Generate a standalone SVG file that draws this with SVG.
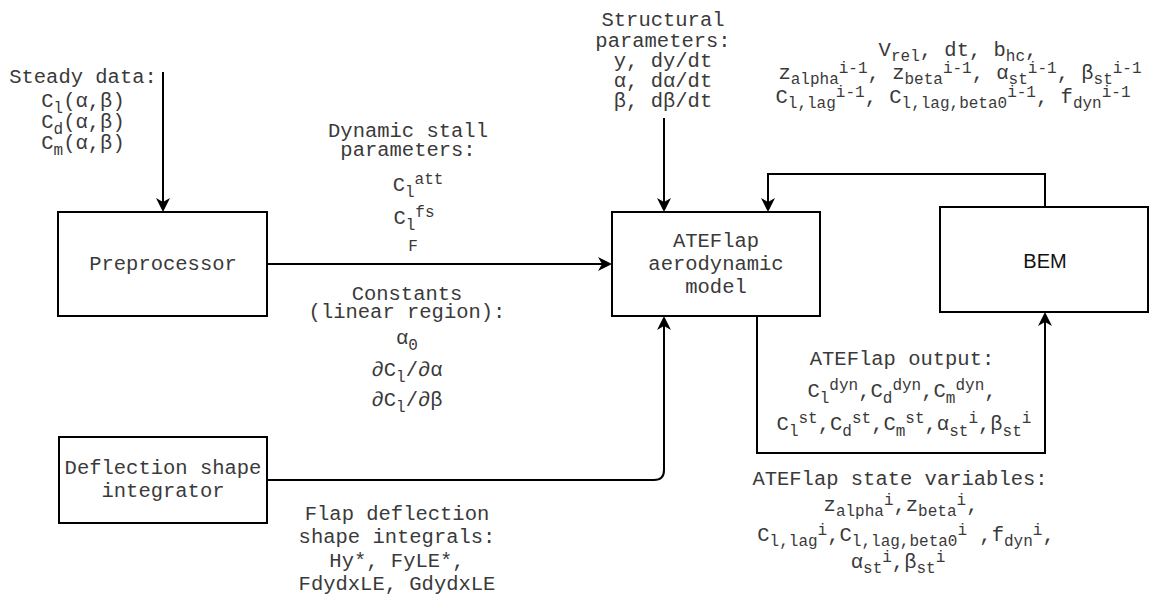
<svg xmlns="http://www.w3.org/2000/svg" width="1164" height="596" viewBox="0 0 1164 596">
<style>
.box{fill:#fff;stroke:#000;stroke-width:2}
.t{font-family:"Liberation Mono","DejaVu Sans Mono",monospace;font-size:20.5px;fill:#3a3a3a;text-anchor:middle}
.s{font-size:16px}
.c{fill:none;stroke:#000;stroke-width:2;marker-end:url(#arr)}
.bem{font-family:"Liberation Sans",Arial,sans-serif;font-size:20px;fill:#111;text-anchor:middle}
</style>
<defs>
<marker id="arr" viewBox="-15 -8 16 16" markerWidth="16" markerHeight="16" refX="-8" refY="0" orient="auto" markerUnits="userSpaceOnUse">
<path d="M0,0 L-14,-7 L-10,0 L-14,7 Z" fill="#000"/>
</marker>
</defs>
<rect width="1164" height="596" fill="#fff"/>
<g id="connectors">
<path class="c" d="M163,72 V204"/>
<path class="c" d="M267,264 H604"/>
<path class="c" d="M664,118 V204"/>
<path class="c" d="M267,480 H654 Q664,480 664,470 V324"/>
<path class="c" d="M1045,207 V174 H768 V204"/>
<path class="c" d="M757,316 V453 H1045 V320"/>
</g>
<g id="preprocessor"><rect class="box" x="58" y="212" width="209" height="104"/><text class="t" x="163" y="270">Preprocessor</text></g>
<g id="ateflap"><rect class="box" x="612" y="212" width="208" height="104"/><text class="t" x="716" y="247">ATEFlap</text><text class="t" x="716" y="270">aerodynamic</text><text class="t" x="716" y="293">model</text></g>
<g id="bem"><rect class="box" x="940" y="207" width="208" height="105"/><text class="bem" x="1045" y="268">BEM</text></g>
<g id="deflection"><rect class="box" x="59" y="437" width="208" height="86"/><text class="t" x="163" y="474">Deflection shape</text><text class="t" x="163" y="497">integrator</text></g>
<g id="labels">
<g id="steady-data">
<text class="t" x="83" y="83">Steady data:</text>
<text class="t" x="83" y="107">C<tspan class="s" dy="6">l</tspan><tspan dy="-6">(α,β)</tspan></text>
<text class="t" x="83" y="128">C<tspan class="s" dy="6">d</tspan><tspan dy="-6">(α,β)</tspan></text>
<text class="t" x="83" y="149">C<tspan class="s" dy="6">m</tspan><tspan dy="-6">(α,β)</tspan></text>
</g>
<g id="dynamic-stall">
<text class="t" x="408" y="137">Dynamic stall</text>
<text class="t" x="408" y="156">parameters:</text>
<text class="t" x="418" y="191">C<tspan class="s" dy="6">l</tspan><tspan class="s" dy="-13">att</tspan></text>
<text class="t" x="414" y="224">C<tspan class="s" dy="6">l</tspan><tspan class="s" dy="-13">fs</tspan></text>
<text class="t s" x="413" y="251">F</text>
</g>
<g id="constants">
<text class="t" x="407" y="300">Constants</text>
<text class="t" x="407" y="318">(linear region):</text>
<text class="t" x="407" y="344">α<tspan class="s" dy="6">0</tspan></text>
<text class="t" x="407" y="376">∂C<tspan class="s" dy="6">l</tspan><tspan dy="-6">/∂α</tspan></text>
<text class="t" x="407" y="406">∂C<tspan class="s" dy="6">l</tspan><tspan dy="-6">/∂β</tspan></text>
</g>
<g id="flap-deflection">
<text class="t" x="397" y="520">Flap deflection</text>
<text class="t" x="397" y="543">shape integrals:</text>
<text class="t" x="397" y="567">Hy*, FyLE*,</text>
<text class="t" x="397" y="590">FdydxLE, GdydxLE</text>
</g>
<g id="structural">
<text class="t" x="663" y="26">Structural</text>
<text class="t" x="663" y="47">parameters:</text>
<text class="t" x="663" y="67">y, dy/dt</text>
<text class="t" x="663" y="87">α, dα/dt</text>
<text class="t" x="663" y="107">β, dβ/dt</text>
</g>
<g id="bem-inputs">
<text class="t" x="958" y="56">V<tspan class="s" dy="5">rel</tspan><tspan dy="-5">, dt, b</tspan><tspan class="s" dy="5">hc</tspan><tspan dy="-5">,</tspan></text>
<text class="t" x="960" y="79">z<tspan class="s" dy="5">alpha</tspan><tspan class="s" dy="-11">i-1</tspan><tspan dy="6">, z</tspan><tspan class="s" dy="5">beta</tspan><tspan class="s" dy="-11">i-1</tspan><tspan dy="6">, α</tspan><tspan class="s" dy="5">st</tspan><tspan class="s" dy="-11">i-1</tspan><tspan dy="6">, β</tspan><tspan class="s" dy="5">st</tspan><tspan class="s" dy="-11">i-1</tspan></text>
<text class="t" x="953" y="103">C<tspan class="s" dy="5">l,lag</tspan><tspan class="s" dy="-11">i-1</tspan><tspan dy="6">, C</tspan><tspan class="s" dy="5">l,lag,beta0</tspan><tspan class="s" dy="-11">i-1</tspan><tspan dy="6">, f</tspan><tspan class="s" dy="5">dyn</tspan><tspan class="s" dy="-11">i-1</tspan></text>
</g>
<g id="ateflap-output">
<text class="t" x="902" y="365">ATEFlap output:</text>
<text class="t" x="902" y="397">C<tspan class="s" dy="6">l</tspan><tspan class="s" dy="-13">dyn</tspan><tspan dy="7">,C</tspan><tspan class="s" dy="6">d</tspan><tspan class="s" dy="-13">dyn</tspan><tspan dy="7">,C</tspan><tspan class="s" dy="6">m</tspan><tspan class="s" dy="-13">dyn</tspan><tspan dy="7">,</tspan></text>
<text class="t" x="904" y="430">C<tspan class="s" dy="6">l</tspan><tspan class="s" dy="-13">st</tspan><tspan dy="7">,C</tspan><tspan class="s" dy="6">d</tspan><tspan class="s" dy="-13">st</tspan><tspan dy="7">,C</tspan><tspan class="s" dy="6">m</tspan><tspan class="s" dy="-13">st</tspan><tspan dy="7">,α</tspan><tspan class="s" dy="6">st</tspan><tspan class="s" dy="-13">i</tspan><tspan dy="7">,β</tspan><tspan class="s" dy="6">st</tspan><tspan class="s" dy="-13">i</tspan></text>
</g>
<g id="state-variables">
<text class="t" x="900" y="485">ATEFlap state variables:</text>
<text class="t" x="901" y="511">z<tspan class="s" dy="5">alpha</tspan><tspan class="s" dy="-11">i</tspan><tspan dy="6">,z</tspan><tspan class="s" dy="5">beta</tspan><tspan class="s" dy="-11">i</tspan><tspan dy="6">,</tspan></text>
<text class="t" x="906" y="541">C<tspan class="s" dy="5">l,lag</tspan><tspan class="s" dy="-11">i</tspan><tspan dy="6">,C</tspan><tspan class="s" dy="5">l,lag,beta0</tspan><tspan class="s" dy="-11">i</tspan><tspan dy="6"> ,f</tspan><tspan class="s" dy="5">dyn</tspan><tspan class="s" dy="-11">i</tspan><tspan dy="6">,</tspan></text>
<text class="t" x="898" y="568">α<tspan class="s" dy="5">st</tspan><tspan class="s" dy="-11">i</tspan><tspan dy="6">,β</tspan><tspan class="s" dy="5">st</tspan><tspan class="s" dy="-11">i</tspan></text>
</g>
</g>
</svg>
